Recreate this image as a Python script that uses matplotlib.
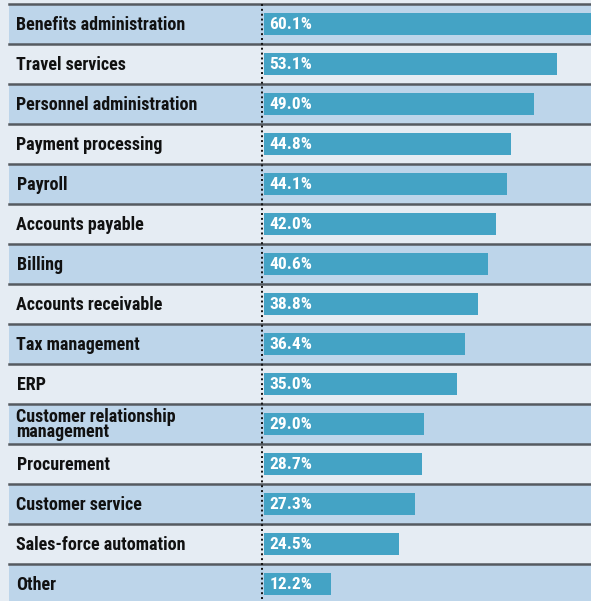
import matplotlib.pyplot as plt
from matplotlib.transforms import blended_transform_factory

# Share of companies using shared services, by function
functions = [
    "Benefits administration", "Travel services", "Personnel administration",
    "Payment processing", "Payroll", "Accounts payable", "Billing",
    "Accounts receivable", "Tax management", "ERP",
    "Customer relationship\nmanagement", "Procurement", "Customer service",
    "Sales-force automation", "Other",
]
shares = [60.1, 53.1, 49.0, 44.8, 44.1, 42.0, 40.6, 38.8, 36.4, 35.0,
          29.0, 28.7, 27.3, 24.5, 12.2]

W, H = 591, 601
bar_x0 = 264          # pixel where bars start
px_per_pct = 5.52
row_h = 40
row_top = 4

BG = "#e5ecf3"
BAND = "#bdd5ea"
BAR = "#44a3c5"
LINE = "#555a60"
FONT = ["Roboto Condensed", "DejaVu Sans"]

fig = plt.figure(figsize=(W / 100, H / 100), dpi=100)
fig.patch.set_facecolor(BG)
ax = fig.add_axes([0, 0, 1, 1])
ax.set_facecolor(BG)
ax.set_xlim(-bar_x0 / px_per_pct, (W - bar_x0) / px_per_pct)
c0 = row_top + row_h / 2
ax.set_ylim((H - c0) / row_h, -c0 / row_h)
ax.axis("off")

x_left = 9 / W
trans = blended_transform_factory(ax.transAxes, ax.transData)
n = len(functions)
for i, name in enumerate(functions):
    if i % 2 == 0:
        ax.axhspan(i - 0.5, i + 0.5, xmin=x_left, xmax=1, color=BAND, lw=0, zorder=0)
    ax.axhline(i - 0.5, xmin=x_left, xmax=1, color=LINE, lw=1.8, zorder=3)
    # baseline of the last line, in row units below the row centre
    base = i + 0.33 if "\n" in name else i + 0.14
    ax.text(16.5 / W, base, name, transform=trans, ha="left", va="baseline",
            fontsize=13, fontweight=800, family=FONT, color="#111111",
            linespacing=0.8, zorder=4)

ys = list(range(n))
ax.barh(ys, shares, height=0.56, left=0, color=BAR, zorder=2)
for y, val in zip(ys, shares):
    ax.text(5.5 / px_per_pct, y + 0.13, f"{val:.1f}%", ha="left", va="baseline",
            fontsize=12.5, fontweight=800, family=FONT, color="white", zorder=4)

ax.plot([-2 / px_per_pct] * 2, [-0.5, n], color="#111111", lw=1.4,
        ls=(0, (1, 1.5)), zorder=5)

fig.savefig("out.png", dpi=100, facecolor=BG)
